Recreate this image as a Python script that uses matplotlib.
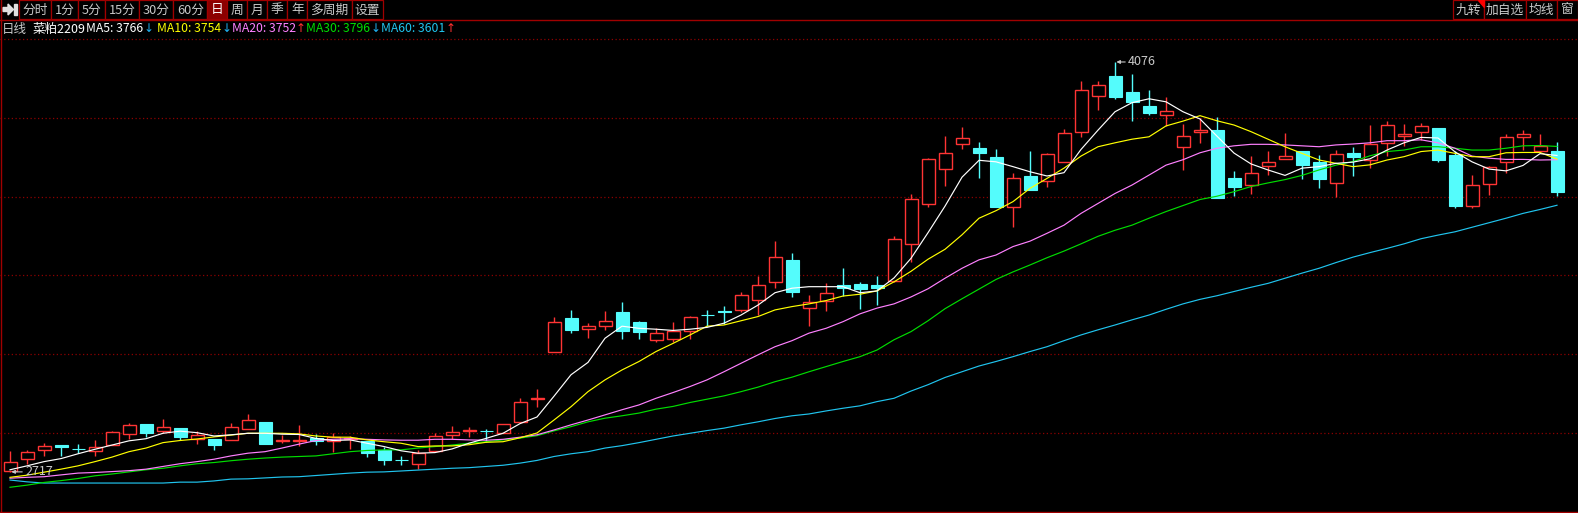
import matplotlib
matplotlib.use("Agg")
import matplotlib.pyplot as plt
from matplotlib.patches import Rectangle, Polygon
from matplotlib.lines import Line2D
import numpy as np

# ---------------- data ----------------
open_prices = [2719, 2759, 2789, 2806, 2793, 2786, 2806, 2842, 2876, 2851,
               2863, 2827, 2826, 2822, 2859, 2882, 2820, 2819, 2828, 2819,
               2825, 2819, 2788, 2758, 2742, 2786, 2839, 2851, 2854, 2845,
               2882, 2957, 3114, 3227, 3192, 3202, 3247, 3214, 3154, 3159,
               3183, 3238, 3249, 3253, 3286, 3346, 3420, 3262, 3283, 3337,
               3340, 3337, 3350, 3472, 3604, 3720, 3805, 3791, 3761, 3594,
               3698, 3680, 3744, 3843, 3962, 4030, 3977, 3930, 3901, 3793,
               3845, 3851, 3690, 3667, 3730, 3753, 3780, 3744, 3674, 3774,
               3751, 3807, 3830, 3845, 3857, 3768, 3600, 3670, 3744, 3828,
               3782, 3781]
high_prices = [2787, 2790, 2813, 2806, 2810, 2822, 2853, 2879, 2876, 2893,
               2863, 2853, 2826, 2879, 2909, 2882, 2840, 2872, 2843, 2845,
               2836, 2819, 2798, 2770, 2790, 2845, 2869, 2866, 2860, 2876,
               2962, 2991, 3230, 3253, 3211, 3250, 3280, 3218, 3193, 3214,
               3233, 3253, 3266, 3315, 3367, 3483, 3443, 3304, 3342, 3392,
               3347, 3367, 3499, 3638, 3756, 3831, 3861, 3810, 3788, 3707,
               3781, 3773, 3853, 4013, 4013, 4076, 4036, 3983, 3960, 3870,
               3891, 3893, 3715, 3764, 3781, 3841, 3780, 3767, 3783, 3794,
               3867, 3880, 3870, 3874, 3857, 3781, 3701, 3731, 3837, 3851,
               3837, 3811]
low_prices = [2717, 2744, 2769, 2770, 2780, 2770, 2806, 2827, 2834, 2845,
              2823, 2811, 2788, 2822, 2859, 2811, 2814, 2803, 2806, 2784,
              2793, 2767, 2741, 2741, 2726, 2786, 2826, 2834, 2817, 2845,
              2882, 2933, 3114, 3179, 3162, 3188, 3156, 3159, 3146, 3146,
              3156, 3202, 3206, 3247, 3237, 3325, 3298, 3202, 3252, 3300,
              3257, 3270, 3348, 3412, 3594, 3666, 3788, 3693, 3596, 3528,
              3653, 3661, 3744, 3828, 3918, 3954, 3881, 3900, 3864, 3717,
              3809, 3626, 3633, 3638, 3702, 3753, 3687, 3658, 3630, 3697,
              3724, 3763, 3799, 3816, 3746, 3593, 3593, 3635, 3707, 3784,
              3773, 3632]
close_prices = [2750, 2783, 2802, 2798, 2792, 2800, 2849, 2872, 2845, 2865,
                2834, 2840, 2807, 2866, 2888, 2811, 2822, 2822, 2821, 2832,
                2830, 2778, 2758, 2756, 2779, 2835, 2849, 2856, 2852, 2876,
                2949, 2962, 3213, 3188, 3200, 3216, 3185, 3182, 3177, 3184,
                3229, 3236, 3247, 3303, 3336, 3429, 3315, 3279, 3309, 3327,
                3324, 3327, 3488, 3621, 3754, 3773, 3823, 3775, 3596, 3690,
                3653, 3770, 3840, 3982, 3999, 3961, 3942, 3907, 3914, 3830,
                3849, 3626, 3662, 3707, 3744, 3764, 3736, 3689, 3770, 3761,
                3804, 3867, 3837, 3864, 3752, 3599, 3667, 3727, 3826, 3837,
                3799, 3645]

ma5 = [2724, 2737, 2751, 2761, 2777, 2792, 2806, 2820, 2827, 2845,
       2852, 2847, 2836, 2840, 2845, 2845, 2842, 2841, 2828, 2821,
       2823, 2812, 2801, 2787, 2779, 2781, 2793, 2812, 2828, 2845,
       2877, 2899, 2968, 3039, 3080, 3160, 3200, 3193, 3190, 3186,
       3190, 3196, 3210, 3237, 3270, 3311, 3326, 3331, 3331, 3331,
       3311, 3317, 3360, 3425, 3510, 3598, 3694, 3750, 3745, 3729,
       3712, 3698, 3709, 3786, 3850, 3911, 3941, 3954, 3944, 3911,
       3887, 3830, 3774, 3738, 3718, 3700, 3724, 3729, 3740, 3744,
       3755, 3784, 3808, 3826, 3824, 3778, 3745, 3721, 3715, 3733,
       3772, 3766]
ma10 = [2699, 2706, 2716, 2726, 2737, 2751, 2766, 2784, 2796, 2814,
        2821, 2826, 2833, 2839, 2845, 2845, 2845, 2843, 2836, 2832,
        2832, 2823, 2817, 2812, 2801, 2803, 2803, 2807, 2815, 2817,
        2830, 2846, 2889, 2933, 2983, 3022, 3055, 3083, 3116, 3143,
        3171, 3200, 3204, 3218, 3232, 3254, 3265, 3274, 3285, 3300,
        3306, 3317, 3347, 3382, 3422, 3455, 3503, 3558, 3583, 3613,
        3657, 3690, 3724, 3764, 3795, 3808, 3820, 3828, 3864, 3880,
        3898, 3881, 3867, 3845, 3820, 3795, 3773, 3751, 3740, 3729,
        3735, 3751, 3762, 3779, 3784, 3773, 3762, 3762, 3775, 3776,
        3776, 3754]
ma20 = [2696, 2699, 2701, 2707, 2713, 2715, 2718, 2721, 2726, 2735,
        2744, 2751, 2759, 2770, 2779, 2784, 2796, 2809, 2821, 2825,
        2827, 2825, 2823, 2822, 2822, 2825, 2825, 2823, 2822, 2825,
        2832, 2840, 2856, 2873, 2889, 2906, 2923, 2939, 2961, 2980,
        3000, 3022, 3049, 3077, 3105, 3132, 3152, 3177, 3193, 3215,
        3241, 3260, 3274, 3297, 3324, 3359, 3392, 3420, 3436, 3464,
        3482, 3508, 3535, 3574, 3607, 3640, 3668, 3701, 3734, 3752,
        3775, 3790, 3798, 3803, 3803, 3801, 3798, 3795, 3801, 3804,
        3808, 3815, 3815, 3818, 3808, 3790, 3764, 3757, 3753, 3753,
        3751, 3752]
ma30 = [2666, 2673, 2682, 2688, 2695, 2704, 2710, 2717, 2724, 2729,
        2737, 2744, 2748, 2754, 2759, 2763, 2766, 2768, 2770, 2777,
        2784, 2788, 2790, 2790, 2796, 2801, 2806, 2812, 2817, 2823,
        2829, 2837, 2853, 2867, 2883, 2895, 2903, 2912, 2925, 2934,
        2947, 2958, 2969, 2983, 2998, 3016, 3031, 3049, 3066, 3083,
        3099, 3121, 3155, 3182, 3218, 3258, 3291, 3323, 3355, 3380,
        3403, 3427, 3449, 3473, 3498, 3518, 3535, 3558, 3580, 3600,
        3620, 3631, 3646, 3663, 3675, 3686, 3700, 3718, 3734, 3746,
        3765, 3779, 3784, 3795, 3795, 3790, 3784, 3784, 3790, 3798,
        3799, 3796]
ma60 = [2690, 2684, 2680, 2680, 2680, 2680, 2680, 2680, 2680, 2680,
        2683, 2683, 2687, 2693, 2694, 2697, 2700, 2701, 2705, 2709,
        2713, 2716, 2717, 2720, 2723, 2726, 2729, 2731, 2735, 2739,
        2746, 2755, 2768, 2777, 2784, 2796, 2804, 2814, 2825, 2836,
        2845, 2854, 2862, 2873, 2883, 2894, 2903, 2909, 2919, 2928,
        2936, 2950, 2961, 2985, 3006, 3030, 3049, 3068, 3083, 3099,
        3116, 3132, 3152, 3171, 3188, 3204, 3221, 3237, 3256, 3274,
        3289, 3301, 3315, 3329, 3342, 3359, 3376, 3392, 3411, 3429,
        3444, 3458, 3473, 3490, 3502, 3513, 3528, 3543, 3558, 3574,
        3587, 3601]

toolbar_left = ["分时", "1分", "5分", "15分", "30分", "60分", "日", "周", "月", "季", "年", "多周期", "设置"]
toolbar_right = ["九转", "加自选", "均线", "窗"]
symbol_name = "菜粕2209"
period_name = "日线"
ma_labels = ["MA5", "MA10", "MA20", "MA30", "MA60"]
ma_last = [3766, 3754, 3752, 3796, 3601]
ma_trend = ["↓", "↓", "↑", "↓", "↑"]
high_mark = 4076
low_mark = 2717

# ---------------- styling ----------------
W, H = 1578, 513
BG = "black"
RED = "#ff3434"
CYAN = "#54fcfc"
FRAME = "#a00000"
GRID = "#8c0000"
TXT = "#c8c8c8"
MA_COLORS = ["#ffffff", "#ffff00", "#ff80ff", "#00dd00", "#20c4ee"]
FONT = ["Noto Sans CJK SC", "DejaVu Sans"]

plt.rcParams['font.family'] = FONT

fig = plt.figure(figsize=(W / 100, H / 100), dpi=100, facecolor=BG)


def fx(px):
    return px / W


def fy(py):
    return 1 - py / H


# main price axes: pixel rows 19..512
ax = fig.add_axes([0, fy(512), 1, (512 - 19) / H])
ax.set_facecolor(BG)
for s in ax.spines.values():
    s.set_visible(False)
ax.set_xticks([])
ax.set_yticks([])
ax.set_xlim(-10 / 17, 1568 / 17)
ax.set_ylim(2584, 4218.5)

# dotted grid
for g in np.linspace(2584, 4153, 7)[1:]:
    ax.axhline(g, color=GRID, lw=0.9, ls=(0, (1, 2)), zorder=1)

x = np.arange(len(close_prices))
o = np.array(open_prices, float)
h = np.array(high_prices, float)
l = np.array(low_prices, float)
c = np.array(close_prices, float)
up = c >= o
dn = ~up
bw = 13 / 17

# down candles (filled cyan)
ax.vlines(x[dn], l[dn], h[dn], color=CYAN, lw=1.0, zorder=2)
body_dn = np.maximum(o[dn] - c[dn], 1.0)
ax.bar(x[dn], body_dn, bottom=c[dn], width=bw, color=CYAN, edgecolor=CYAN, lw=0.8, zorder=3)

# up candles (hollow red)
ax.vlines(x[up], c[up], h[up], color=RED, lw=1.0, zorder=2)
ax.vlines(x[up], l[up], o[up], color=RED, lw=1.0, zorder=2)
body_up = np.maximum(c[up] - o[up], 1.0)
ax.bar(x[up], body_up, bottom=o[up], width=bw, facecolor=BG, edgecolor=RED, lw=1.0, zorder=3)

# moving averages
for series, col in zip([ma60, ma30, ma20, ma10, ma5], MA_COLORS[::-1]):
    ax.plot(x, series, color=col, lw=0.85, zorder=4)

# high / low markers
i_hi = int(np.argmax(h))
i_lo = int(np.argmin(l))
ax.annotate(str(high_mark), xy=(i_hi, high_mark), xytext=(13, 0), textcoords='offset pixels',
            color=TXT, fontsize=9, va='center', ha='left',
            arrowprops=dict(arrowstyle='-|>', color=TXT, lw=0.8, shrinkA=0, shrinkB=1,
                            mutation_scale=5), zorder=6)
ax.annotate(str(low_mark), xy=(i_lo, low_mark), xytext=(15, 0), textcoords='offset pixels',
            color=TXT, fontsize=9, va='center', ha='left',
            arrowprops=dict(arrowstyle='-|>', color=TXT, lw=0.8, shrinkA=0, shrinkB=1,
                            mutation_scale=5), zorder=6)

# ---------------- frame lines ----------------
def fline(x0, y0, x1, y1, color=FRAME, lw=1.0):
    fig.add_artist(Line2D([fx(x0), fx(x1)], [fy(y0), fy(y1)], color=color, lw=lw,
                          transform=fig.transFigure))

fline(0, 19.5, W, 19.5)
fline(1, 0, 1, H)
fline(0, 511.5, W, 511.5)

# ---------------- toolbar ----------------
# icon
fig.add_artist(Polygon([[fx(3), fy(7.5)], [fx(8), fy(7.5)], [fx(8), fy(4)], [fx(13.5), fy(9.5)],
                        [fx(8), fy(15)], [fx(8), fy(11.5)], [fx(3), fy(11.5)]],
                       closed=True, color="#e0e0e0", transform=fig.transFigure))
fig.add_artist(Rectangle((fx(14), fy(15)), fx(2.5), (15 - 4) / H, color="#e0e0e0",
                         transform=fig.transFigure))

left_edges = [19.3, 51, 78.3, 105.3, 139, 173.3, 207.3, 226.7, 247.3, 267.3, 287.3, 307.3, 351.7, 383.3]
for k, lab in enumerate(toolbar_left):
    x0, x1 = left_edges[k], left_edges[k + 1]
    sel = lab == "日"
    fig.add_artist(Rectangle((fx(x0), fy(19)), fx(x1 - x0), 19 / H,
                             facecolor="#8c0000" if sel else BG, edgecolor=FRAME, lw=0.9,
                             transform=fig.transFigure))
    fig.text(fx((x0 + x1) / 2), fy(10), lab, ha='center', va='center', fontsize=9.2,
             color="white" if sel else TXT)

right_edges = [1453.3, 1484.3, 1526, 1557.3, 1578]
for k, lab in enumerate(toolbar_right):
    x0, x1 = right_edges[k], right_edges[k + 1]
    fig.add_artist(Rectangle((fx(x0), fy(19)), fx(x1 - x0), 19 / H,
                             facecolor=BG, edgecolor=FRAME, lw=0.9, transform=fig.transFigure))
    fig.text(fx((x0 + x1) / 2), fy(10), lab, ha='center', va='center', fontsize=9.2, color=TXT)
fig.add_artist(Polygon([[fx(1477.5), fy(0)], [fx(1484), fy(0)], [fx(1484), fy(6.5)]], closed=True,
                       color="#ff0000", transform=fig.transFigure))

# ---------------- info row (chained so nothing overlaps) ----------------
ty = 29
renderer = fig.canvas.get_renderer()
fig.text(fx(2), fy(ty), period_name, ha='left', va='center', fontsize=9, color=TXT)
t = fig.text(fx(32.5), fy(ty), symbol_name, ha='left', va='center', fontsize=9, color="white")
cur = t.get_window_extent(renderer).x1
label_x = [86.5, 156.7, 230.3, 304.3, 378.3]
for k in range(5):
    start = max(label_x[k], cur + 0.5)
    t = fig.text(fx(start), fy(ty), f"{ma_labels[k]}: {ma_last[k]}", ha='left', va='center',
                 fontsize=8.8, color=MA_COLORS[k])
    end = t.get_window_extent(renderer).x1
    a = fig.text(fx(end + 0.3), fy(ty), ma_trend[k], ha='left', va='center', fontsize=8.6,
                 family=["DejaVu Sans"],
                 color="#ff3030" if ma_trend[k] == "↑" else "#20b0f0")
    cur = a.get_window_extent(renderer).x1

fig.savefig("out.png", dpi=100, facecolor=BG)
